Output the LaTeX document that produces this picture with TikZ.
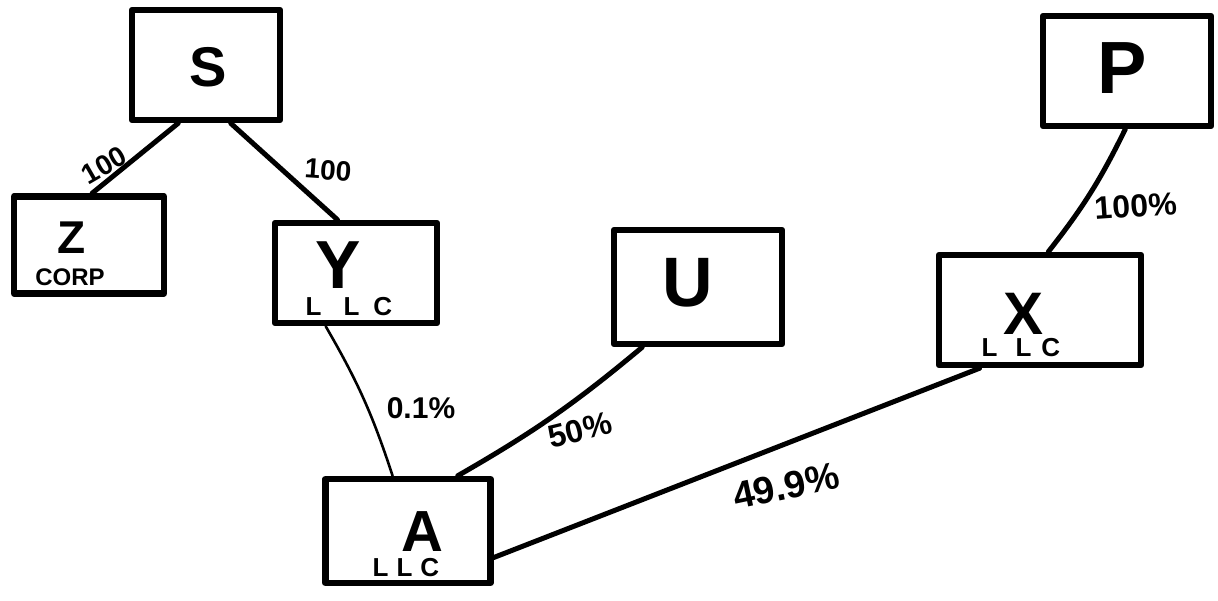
\documentclass[tikz,border=0pt]{standalone}
\usepackage{fontspec}
\setmainfont{Liberation Sans}
\usetikzlibrary{calc}
\begin{document}
\begin{tikzpicture}[x=1pt,y=-1pt,
  box/.style={draw,line width=6.5pt,rectangle,inner sep=0pt,line join=round},
  link/.style={line width=5pt,line cap=round},
  thinlink/.style={line width=2.6pt,line cap=round},
  big/.style={font=\fontsize{#1}{#1}\selectfont\bfseries,inner sep=0pt},
  lbl/.style={font=\fontsize{#1}{#1}\selectfont\bfseries,inner sep=0pt}]
\useasboundingbox (0,0) rectangle (1218,601);
\fill[white] (0,0) rectangle (1218,601);

% boxes
\node[box,minimum width=148pt,minimum height=110pt] (S) at (206,65) {};
\node[box,minimum width=150pt,minimum height=97pt] (Z) at (89,245) {};
\node[box,minimum width=162pt,minimum height=100pt] (Y) at (356,273) {};
\node[box,minimum width=168pt,minimum height=114pt] (U) at (698,287) {};
\node[box,minimum width=202pt,minimum height=110pt] (X) at (1040,310) {};
\node[box,minimum width=168pt,minimum height=110pt] (P) at (1127,71) {};
\node[box,minimum width=165pt,minimum height=104pt] (A) at (408,531) {};

% box texts
\node[big=56] (St) at (208,67) {S};
\node[big=46] (Zt) at (72,238) {Z};
\node[lbl=24] (Zs) at (70,277) {CORP};
\node[big=68] (Yt) at (338,265) {Y};
\node[lbl=26] (Ys) at (349,307) {L\hspace{22pt}L\hspace{14pt}C};
\node[big=70] (Ut) at (688,283) {U};
\node[big=60] (Xt) at (1023,314) {X};
\node[lbl=26] (Xs) at (1021,348) {L\hspace{18pt}L\hspace{10pt}C};
\node[big=74] (Pt) at (1122,68) {P};
\node[big=58] (At) at (422,532) {A};
\node[lbl=26] (As) at (406,568) {L\hspace{8pt}L\hspace{8pt}C};

% connection points
\coordinate (s1) at ($(S.south west)!0.32!(S.south east)$);
\coordinate (s2) at ($(S.south west)!0.66!(S.south east)$);
\coordinate (z1) at ($(Z.north west)!0.52!(Z.north east)$);
\coordinate (y1) at ($(Y.north west)!0.39!(Y.north east)$);
\coordinate (y2) at ($(Y.south west)!0.32!(Y.south east)$);
\coordinate (a1) at ($(A.north west)!0.41!(A.north east)$);
\coordinate (a2) at ($(A.north west)!0.79!(A.north east)$);
\coordinate (a3) at ($(A.south east)!0.26!(A.north east)$);
\coordinate (u1) at ($(U.south west)!0.18!(U.south east)$);
\coordinate (x1) at ($(X.south west)!0.21!(X.south east)$);
\coordinate (x2) at ($(X.north west)!0.54!(X.north east)$);
\coordinate (p1) at ($(P.south west)!0.49!(P.south east)$);

% connectors
\draw[link] (s1) -- (z1);
\draw[link] (s2) -- (y1);
\draw[thinlink] (y2) to[bend left=6] (a1);
\draw[link] (u1) to[bend left=5] (a2);
\draw[link] (x1) -- (a3);
\draw[link] (p1) to[bend left=6] (x2);

% labels
\node[lbl=28,rotate=30] (l1) at (104,165) {100};
\node[lbl=28,rotate=-4] (l2) at (328,170) {100};
\node[lbl=30] (l3) at (421,408) {0.1\%};
\node[lbl=32,rotate=14] (l4) at (580,430) {50\%};
\node[lbl=38,rotate=12] (l5) at (786,486) {49.9\%};
\node[lbl=32,rotate=4] (l6) at (1136,206) {100\%};
\end{tikzpicture}
\end{document}
